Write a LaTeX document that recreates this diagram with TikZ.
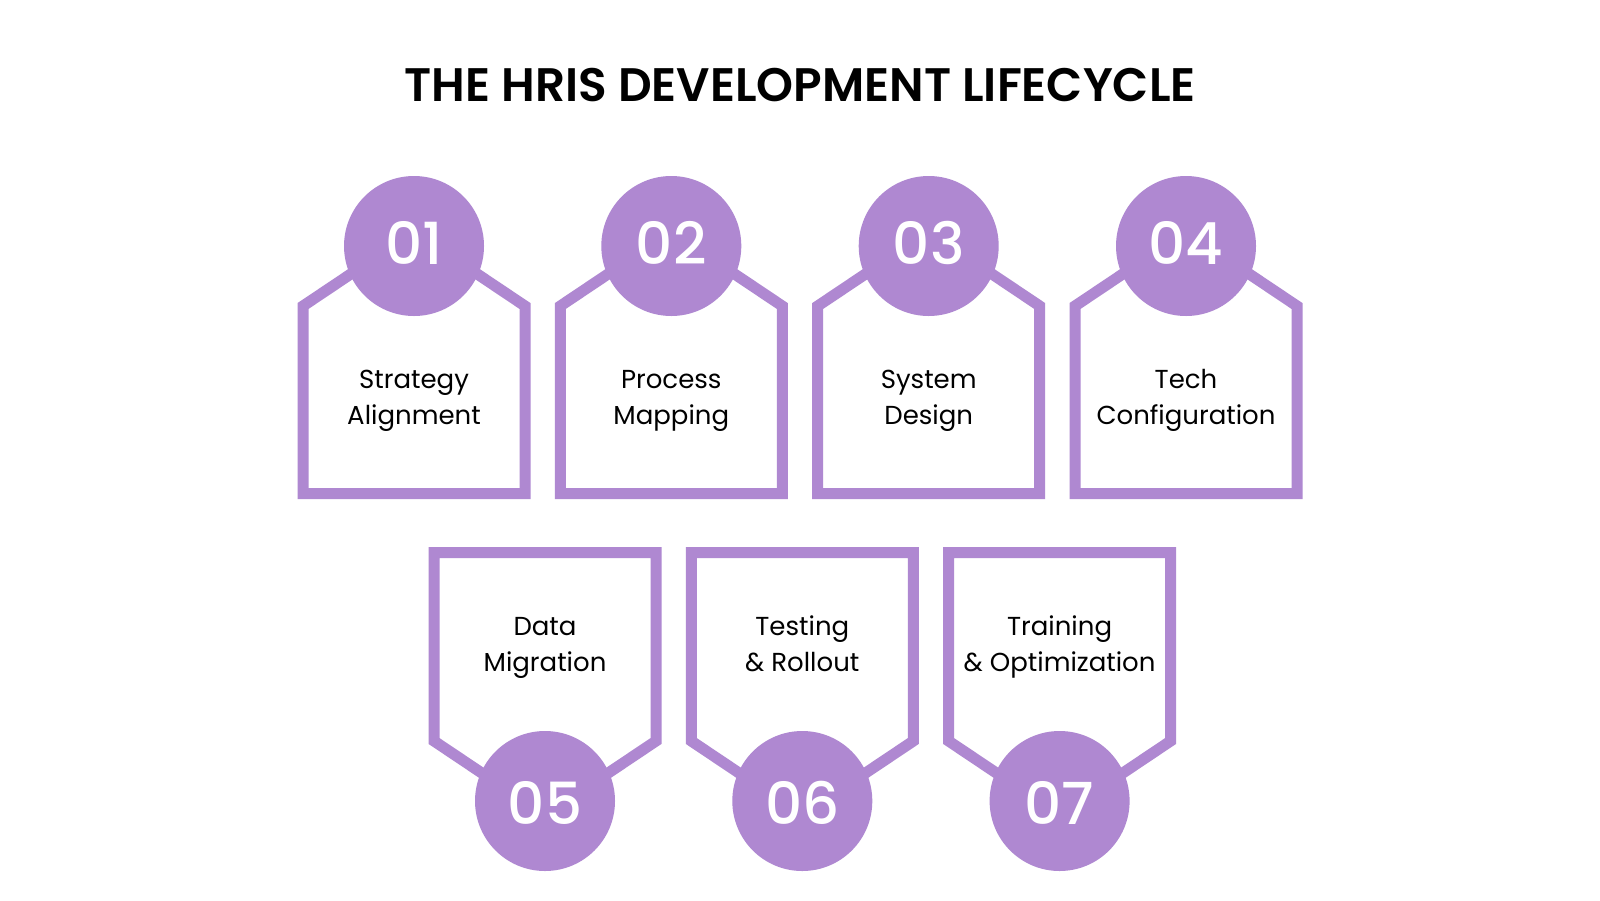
\documentclass[tikz,border=0pt]{standalone}
\usepackage{fontspec}
\setmainfont{Poppins}
\newfontfamily\numfont{Poppins Medium}
\newfontfamily\titlefont{Poppins SemiBold}
\definecolor{lav}{RGB}{175,136,209}
\begin{document}
\begin{tikzpicture}[x=1pt,y=-1pt,
  frame/.style={draw=lav,line width=11pt,line join=miter,miter limit=10},
  badge/.style={circle,fill=lav,minimum size=140pt,inner sep=0pt},
  numtxt/.style={text=white,font=\numfont\fontsize{58}{58}\selectfont},
  lbl/.style={align=center,font=\fontsize{26}{36}\selectfont,text=black}]
\fill[white] (0,0) rectangle (1600,900);
\useasboundingbox (0,0) rectangle (1600,900);
\node[font=\titlefont\fontsize{47}{47}\selectfont] (title) at (800,85) {THE HRIS DEVELOPMENT LIFECYCLE};
% top row
\foreach \cx/\num/\txt [count=\i] in {414/01/{\strut Strategy\\\strut Alignment},671.3/02/{\strut Process\\\strut Mapping},928.7/03/{\strut System\\\strut Design},1186/04/{\strut Tech\\\strut Configuration}}{
  \draw[frame] (\cx-111,306) -- (\cx,231.6) -- (\cx+111,306) -- (\cx+111,493.5) -- (\cx-111,493.5) -- cycle;
  \node[badge] (c\i) at (\cx,246) {};
  \node[numtxt] (n\i) at (\cx,243) {\num};
  \node[lbl] (t\i) at (\cx,399) {\txt};
}
% bottom row
\foreach \cx/\num/\txt [count=\i from 5] in {545/05/{\strut Data\\\strut Migration},802.3/06/{\strut Testing\\\strut\& Rollout},1059.6/07/{\strut Training\\\strut\& Optimization}}{
  \draw[frame] (\cx-111,552.5) -- (\cx+111,552.5) -- (\cx+111,741) -- (\cx,815.4) -- (\cx-111,741) -- cycle;
  \node[badge] (c\i) at (\cx,801) {};
  \node[numtxt] (n\i) at (\cx,803) {\num};
  \node[lbl] (t\i) at (\cx,646) {\txt};
}
\end{tikzpicture}
\end{document}
